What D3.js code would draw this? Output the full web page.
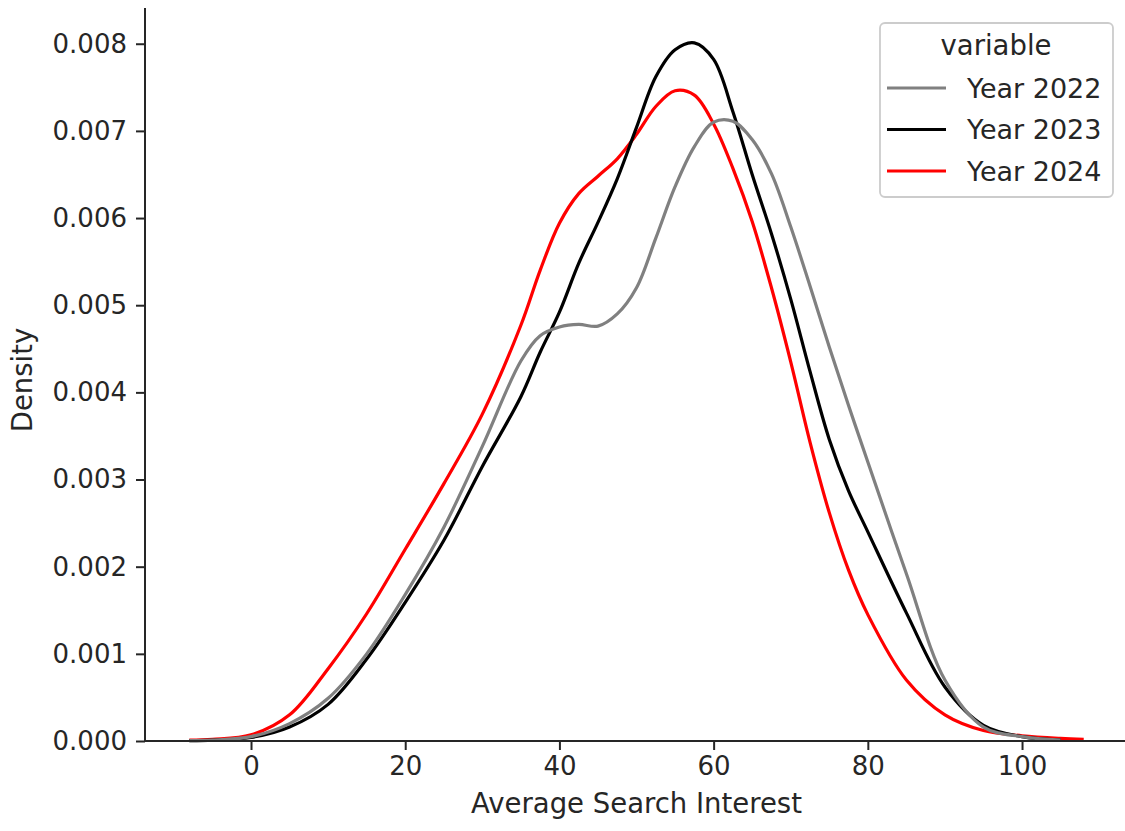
<!doctype html>
<html>

<head>
    <meta charset="UTF-8">
    <title>kde</title>
    <script src="https://d3js.org/d3.v7.min.js"></script>
    <style>
        body {
            margin: 0;
            background: #fff;
        }

        text {
            font-family: "DejaVu Sans", sans-serif;
            fill: #262626;
        }
    </style>
</head>

<body>
    <svg width="1125" height="831"></svg>

    <script>
        var xVals = [-8, -5, 0, 5, 10, 15, 20, 25, 30, 35, 37.5, 40, 42.5, 45, 47.5, 50, 52.5, 55, 57.5, 60,
            62.5, 65, 67.5, 70, 72.5, 75, 77.5, 80, 85, 90, 95, 100, 105, 108];

        var year2022 = [0.000005, 0.00001, 0.00005, 0.0002, 0.00049, 0.001, 0.00168, 0.00245, 0.00338, 0.00436,
            0.00465, 0.00475, 0.00478, 0.00476, 0.0049, 0.0052, 0.00577, 0.00636, 0.00682, 0.0071,
            0.00711, 0.0069, 0.00651, 0.0059, 0.00522, 0.00452, 0.00385, 0.0032, 0.00192, 0.0007, 0.00016, 0.00005, 0.00001, null];

        var year2023 = [0.000005, 0.00001, 0.00004, 0.00016, 0.00042, 0.00094, 0.00159, 0.0023, 0.00315, 0.00395,
            0.00446, 0.00492, 0.00548, 0.00595, 0.00645, 0.00704, 0.00762, 0.00793, 0.00801, 0.00782,
            0.00722, 0.0065, 0.00582, 0.00507, 0.00424, 0.00346, 0.00287, 0.0024, 0.00147, 0.00062, 0.00018, 0.00005, 0.00001, null];

        var year2024 = [0.00001, 0.00002, 0.00007, 0.0003, 0.00083, 0.00146, 0.0022, 0.00295, 0.00375, 0.00477,
            0.0054, 0.00594, 0.00628, 0.00648, 0.00668, 0.00696, 0.00728, 0.00746, 0.00741, 0.00708,
            0.00657, 0.00596, 0.0052, 0.00435, 0.00343, 0.00262, 0.00196, 0.00145, 0.0007, 0.0003, 0.00012, 0.00006, 0.00003, 0.00002];

        var seriesNames = ["Year 2022", "Year 2023", "Year 2024"];
        var seriesColors = ["#808080", "#000000", "#ff0000"];
        var seriesValues = [year2022, year2023, year2024];

        var xTicks = [0, 20, 40, 60, 80, 100];
        var yTicks = [0, 0.001, 0.002, 0.003, 0.004, 0.005, 0.006, 0.007, 0.008];

        var svg = d3.select("svg");
        var fs = 26;
        var fsLabel = 27.5;
        var fsLegend = 27;

        var x = d3.scaleLinear().domain([-13.75, 116]).range([145, 1145.4]);
        var y = d3.scaleLinear().domain([0, 0.00841]).range([741, 8]);

        // curves, last series drawn first so grey sits on top
        var line = d3.line()
            .defined(function(d) { return d[1] !== null; })
            .x(function(d) { return x(d[0]); })
            .y(function(d) { return y(d[1]); })
            .curve(d3.curveCatmullRom.alpha(0.5));

        for (var i = seriesValues.length - 1; i >= 0; i--) {
            var pts = xVals.map(function(v, j) { return [v, seriesValues[i][j]]; });
            svg.append("path")
                .attr("d", line(pts))
                .attr("fill", "none")
                .attr("stroke", seriesColors[i])
                .attr("stroke-width", 3.2)
                .attr("stroke-linejoin", "round");
        }

        // axes
        var xAxis = svg.append("g")
            .attr("transform", "translate(0,741)")
            .call(d3.axisBottom(x).tickValues(xTicks).tickSize(9).tickPadding(7).tickFormat(d3.format("d")));
        var yAxis = svg.append("g")
            .attr("transform", "translate(145,0)")
            .call(d3.axisLeft(y).tickValues(yTicks).tickSize(9).tickPadding(9).tickFormat(d3.format(".3f")));

        [xAxis, yAxis].forEach(function(ax) {
            ax.select(".domain").attr("stroke", "#262626").attr("stroke-width", 2);
            ax.selectAll(".tick line").attr("stroke", "#262626").attr("stroke-width", 2);
            ax.selectAll(".tick text")
                .attr("font-family", "DejaVu Sans")
                .attr("font-size", fs)
                .attr("fill", "#262626");
        });
        xAxis.select(".domain").attr("d", "M145,0H1125");
        yAxis.select(".domain").attr("d", "M0,8V741");

        svg.append("text")
            .attr("x", x(50))
            .attr("y", 813)
            .attr("text-anchor", "middle")
            .attr("font-size", fsLabel)
            .text("Average Search Interest");

        svg.append("text")
            .attr("transform", "translate(32,380) rotate(-90)")
            .attr("text-anchor", "middle")
            .attr("font-size", fsLabel)
            .text("Density");

        // legend
        var lg = svg.append("g");
        lg.append("rect")
            .attr("x", 880).attr("y", 23)
            .attr("width", 233).attr("height", 174)
            .attr("rx", 5)
            .attr("fill", "#fff").attr("fill-opacity", 0.8)
            .attr("stroke", "#cccccc").attr("stroke-width", 1.8);
        lg.append("text")
            .attr("x", 996).attr("y", 55)
            .attr("text-anchor", "middle")
            .attr("font-size", fsLabel)
            .text("variable");

        seriesNames.forEach(function(name, i) {
            var ly = 88 + 41.5 * i;
            lg.append("line")
                .attr("x1", 887).attr("x2", 946)
                .attr("y1", ly).attr("y2", ly)
                .attr("stroke", seriesColors[i])
                .attr("stroke-width", 3.2);
            lg.append("text")
                .attr("x", 967).attr("y", ly + 9.5)
                .attr("font-size", fsLegend)
                .text(name);
        });
    </script>
</body>

</html>
